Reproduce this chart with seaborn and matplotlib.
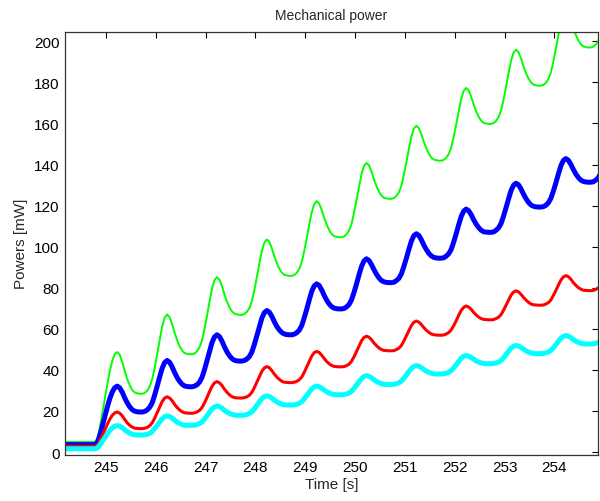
import numpy as np
import pandas as pd
import seaborn as sns
import matplotlib.pyplot as plt

# time samples (s), every 0.05 s from 244.03 to 254.93
time_s = np.round(np.arange(244.03, 254.94, 0.05), 2)

# powers in mW, one row per ~1 s cycle
green_mw = [4.9] * 16 + [6.5, 12.0, 19.0, 26.0, 33.0, 39.5, 44.5, 47.7,
    48.7, 47.3, 43.8, 39.4, 35.5, 32.5, 30.2, 29.0, 28.6, 28.4, 28.4, 28.8, 29.9, 31.9, 35.4, 41.1, 47.7, 54.6, 61.2, 65.5,
    67.0, 65.6, 62.3, 58.1, 54.4, 51.5, 49.4, 48.2, 47.8, 47.6, 47.6, 48.0, 49.1, 51.0, 54.4, 60.0, 66.4, 73.2, 79.6, 83.7,
    85.2, 83.9, 80.8, 76.7, 73.2, 70.5, 68.5, 67.4, 67.0, 66.8, 66.8, 67.2, 68.3, 70.1, 73.4, 78.9, 85.2, 91.8, 98.0, 102.0,
    103.5, 102.3, 99.3, 95.4, 92.0, 89.3, 87.4, 86.3, 86.0, 85.8, 85.8, 86.2, 87.3, 89.1, 92.4, 97.8, 104.0, 110.6, 116.7, 120.7,
    122.2, 121.0, 118.0, 114.1, 110.8, 108.1, 106.2, 105.1, 104.8, 104.6, 104.6, 105.0, 106.1, 107.9, 111.1, 116.6, 122.7, 129.2, 135.4, 139.4,
    140.8, 139.6, 136.6, 132.8, 129.4, 126.8, 124.9, 123.8, 123.5, 123.3, 123.3, 123.7, 124.7, 126.5, 129.7, 135.1, 141.1, 147.5, 153.6, 157.5,
    158.9, 157.7, 154.8, 151.1, 147.9, 145.3, 143.4, 142.4, 142.1, 141.9, 141.9, 142.3, 143.3, 145.1, 148.3, 153.6, 159.6, 166.0, 172.0, 175.9,
    177.3, 176.1, 173.1, 169.3, 165.9, 163.3, 161.4, 160.3, 160.0, 159.8, 159.8, 160.2, 161.2, 163.1, 166.3, 171.7, 177.9, 184.4, 190.5, 194.5,
    195.9, 194.7, 191.7, 187.9, 184.5, 181.9, 180.0, 178.9, 178.6, 178.4, 178.4, 178.8, 179.8, 181.7, 184.9, 190.3, 196.5, 203.0, 209.1, 213.1,
    214.5, 213.3, 210.3, 206.5, 203.1, 200.5, 198.6, 197.5, 197.2, 197.0, 197.0, 197.4, 198.4, 200.2, 203.5]

blue_mw = [3.6] * 16 + [4.6, 8.2, 12.8, 17.3, 21.9, 26.1, 29.3, 31.4,
    32.1, 31.2, 29.1, 26.3, 23.9, 22.0, 20.6, 19.9, 19.6, 19.5, 19.5, 19.8, 20.5, 21.8, 24.0, 27.8, 32.1, 36.6, 40.8, 43.6,
    44.6, 43.7, 41.5, 38.7, 36.3, 34.4, 33.0, 32.2, 31.9, 31.8, 31.8, 32.1, 32.8, 34.1, 36.4, 40.2, 44.5, 49.0, 53.3, 56.1,
    57.1, 56.2, 54.0, 51.2, 48.8, 46.9, 45.5, 44.7, 44.4, 44.3, 44.3, 44.6, 45.3, 46.5, 48.7, 52.4, 56.6, 61.0, 65.2, 67.9,
    68.9, 68.1, 66.1, 63.5, 61.2, 59.5, 58.2, 57.5, 57.2, 57.1, 57.1, 57.4, 58.1, 59.3, 61.6, 65.3, 69.5, 74.0, 78.2, 80.9,
    81.9, 81.1, 79.0, 76.3, 74.0, 72.1, 70.8, 70.1, 69.8, 69.7, 69.7, 69.9, 70.7, 71.9, 74.1, 77.8, 81.9, 86.3, 90.4, 93.1,
    94.1, 93.3, 91.3, 88.8, 86.6, 84.8, 83.5, 82.9, 82.6, 82.5, 82.5, 82.7, 83.5, 84.6, 86.8, 90.4, 94.4, 98.7, 102.7, 105.4,
    106.3, 105.5, 103.4, 100.8, 98.6, 96.8, 95.5, 94.8, 94.5, 94.4, 94.4, 94.6, 95.4, 96.6, 98.7, 102.3, 106.4, 110.7, 114.7, 117.3,
    118.3, 117.5, 115.6, 113.1, 111.0, 109.3, 108.0, 107.3, 107.1, 107.0, 107.0, 107.2, 108.0, 109.2, 111.3, 114.9, 119.0, 123.3, 127.3, 129.9,
    130.9, 130.1, 128.1, 125.6, 123.4, 121.6, 120.3, 119.7, 119.4, 119.3, 119.3, 119.5, 120.2, 121.4, 123.6, 127.1, 131.1, 135.4, 139.4, 142.0,
    142.9, 142.1, 140.1, 137.6, 135.4, 133.7, 132.4, 131.8, 131.5, 131.4, 131.4, 131.6, 132.4, 133.6, 135.7]

red_mw = [2.8] * 16 + [3.4, 5.5, 8.2, 10.8, 13.5, 16.0, 17.9, 19.1,
    19.5, 18.9, 17.6, 15.8, 14.2, 13.0, 12.1, 11.6, 11.5, 11.4, 11.4, 11.6, 12.0, 12.8, 14.2, 16.5, 19.2, 21.9, 24.6, 26.3,
    26.9, 26.3, 25.0, 23.2, 21.7, 20.5, 19.6, 19.1, 19.0, 18.9, 18.9, 19.1, 19.5, 20.3, 21.7, 24.0, 26.6, 29.4, 32.0, 33.7,
    34.3, 33.7, 32.4, 30.6, 29.1, 27.9, 27.0, 26.5, 26.4, 26.3, 26.3, 26.5, 26.9, 27.7, 29.1, 31.4, 34.0, 36.7, 39.3, 41.0,
    41.6, 41.1, 39.7, 38.0, 36.5, 35.4, 34.5, 34.0, 33.9, 33.8, 33.8, 34.0, 34.4, 35.2, 36.5, 38.8, 41.4, 44.1, 46.7, 48.4,
    49.0, 48.5, 47.2, 45.6, 44.1, 43.0, 42.2, 41.7, 41.6, 41.5, 41.5, 41.6, 42.1, 42.8, 44.2, 46.4, 49.0, 51.6, 54.2, 55.8,
    56.4, 55.9, 54.7, 53.1, 51.8, 50.7, 49.9, 49.5, 49.4, 49.3, 49.3, 49.4, 49.9, 50.6, 51.9, 54.1, 56.6, 59.2, 61.6, 63.2,
    63.8, 63.3, 62.1, 60.6, 59.3, 58.3, 57.5, 57.1, 57.0, 56.9, 56.9, 57.0, 57.5, 58.2, 59.5, 61.6, 64.0, 66.6, 69.0, 70.5,
    71.1, 70.6, 69.5, 68.0, 66.8, 65.7, 65.0, 64.6, 64.5, 64.4, 64.4, 64.5, 65.0, 65.7, 66.9, 69.1, 71.5, 74.0, 76.4, 77.9,
    78.5, 78.0, 76.8, 75.3, 74.0, 72.9, 72.1, 71.7, 71.6, 71.5, 71.5, 71.6, 72.1, 72.8, 74.1, 76.3, 78.7, 81.3, 83.7, 85.3,
    85.9, 85.4, 84.2, 82.5, 81.2, 80.1, 79.3, 78.8, 78.7, 78.6, 78.6, 78.7, 79.2, 79.9, 81.2]

cyan_mw = [1.6] * 16 + [2.0, 3.4, 5.2, 7.0, 8.8, 10.5, 11.8, 12.6,
    12.9, 12.6, 11.8, 10.8, 9.9, 9.2, 8.7, 8.4, 8.3, 8.3, 8.3, 8.4, 8.7, 9.1, 10.0, 11.4, 13.0, 14.6, 16.2, 17.2,
    17.6, 17.3, 16.5, 15.5, 14.6, 13.9, 13.4, 13.1, 13.0, 13.0, 13.0, 13.1, 13.4, 13.9, 14.7, 16.1, 17.7, 19.4, 21.0, 22.0,
    22.4, 22.1, 21.3, 20.3, 19.5, 18.8, 18.3, 18.0, 17.9, 17.9, 17.9, 18.0, 18.3, 18.8, 19.6, 21.0, 22.7, 24.4, 26.0, 27.0,
    27.4, 27.1, 26.3, 25.3, 24.5, 23.8, 23.3, 23.0, 22.9, 22.9, 22.9, 23.0, 23.3, 23.7, 24.6, 25.9, 27.5, 29.2, 30.7, 31.7,
    32.1, 31.8, 31.1, 30.2, 29.4, 28.7, 28.3, 28.0, 27.9, 27.9, 27.9, 28.0, 28.3, 28.7, 29.6, 31.0, 32.6, 34.2, 35.8, 36.8,
    37.2, 36.9, 36.2, 35.2, 34.4, 33.8, 33.3, 33.0, 32.9, 32.9, 32.9, 33.0, 33.3, 33.7, 34.6, 35.9, 37.5, 39.2, 40.7, 41.7,
    42.1, 41.8, 41.1, 40.2, 39.4, 38.8, 38.4, 38.1, 38.0, 38.0, 38.0, 38.1, 38.4, 38.8, 39.6, 41.0, 42.5, 44.1, 45.7, 46.6,
    47.0, 46.7, 46.0, 45.2, 44.4, 43.8, 43.4, 43.1, 43.0, 43.0, 43.0, 43.1, 43.4, 43.8, 44.6, 45.9, 47.5, 49.1, 50.6, 51.5,
    51.9, 51.6, 50.9, 50.1, 49.3, 48.7, 48.3, 48.0, 47.9, 47.9, 47.9, 48.0, 48.3, 48.7, 49.5, 50.8, 52.3, 53.9, 55.4, 56.3,
    56.7, 56.4, 55.7, 54.8, 54.0, 53.4, 53.0, 52.7, 52.6, 52.6, 52.6, 52.7, 53.0, 53.4, 54.2]

xticks = list(range(245, 255))
yticks = list(range(0, 201, 20))

sns.set_style("white")
plt.rcParams['font.family'] = ['Liberation Sans', 'DejaVu Sans']

fig = plt.figure(figsize=(6, 5.02), dpi=100)
ax = fig.add_axes([0.1083, 0.0926, 0.8888, 0.8423])

series = [(green_mw, (0, 1, 0), 1.4),
          (blue_mw, (0, 0, 1), 3.6),
          (red_mw, (1, 0, 0), 2.2),
          (cyan_mw, (0, 1, 1), 3.6)]
for vals, col, lw in series:
    df = pd.DataFrame({'t': time_s, 'p': vals})
    sns.lineplot(data=df, x='t', y='p', color=col, linewidth=lw, ax=ax)

ax.set_xlim(244.18, 254.88)
ax.set_ylim(-1.2, 204.7)
ax.set_xticks(xticks)
ax.set_yticks(yticks)
ax.tick_params(direction='in', top=True, right=True, length=4, width=0.8,
               labelsize=11, pad=4, colors='black')
for s in ax.spines.values():
    s.set_color('#333333')
    s.set_linewidth(0.9)

ax.set_title('Mechanical power', fontsize=10, pad=9)
ax.set_xlabel('Time [s]', fontsize=11, labelpad=2)
ax.set_ylabel('Powers [mW]', fontsize=11, labelpad=4)

fig.savefig('out.png', dpi=100)
